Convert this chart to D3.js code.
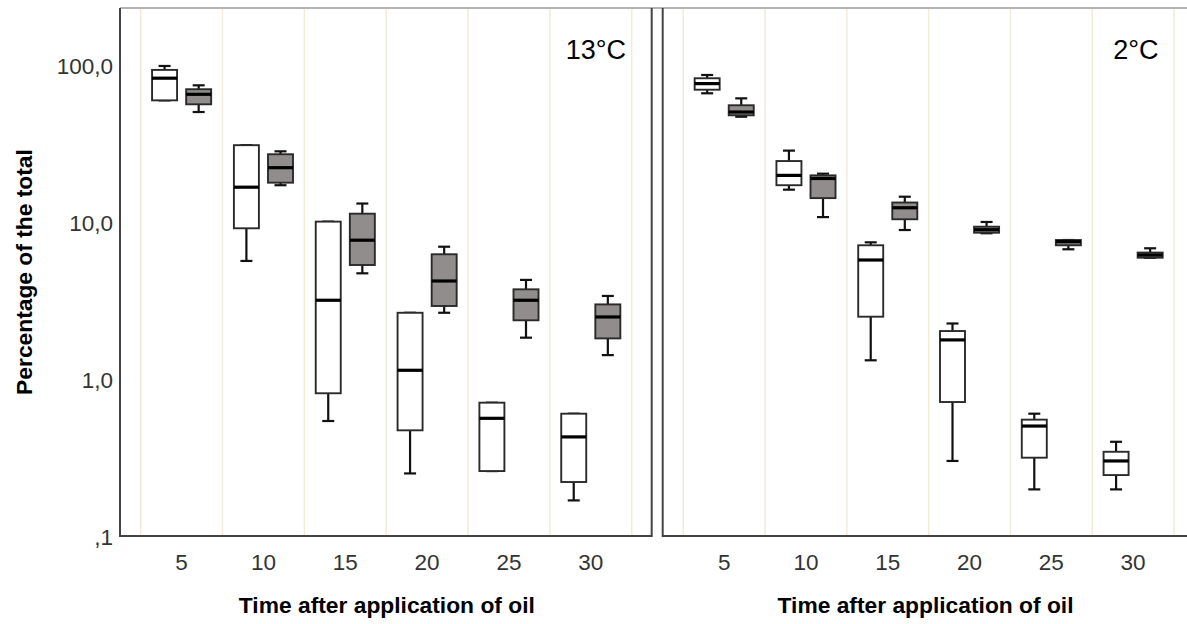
<!DOCTYPE html>
<html>
<head>
<meta charset="utf-8">
<script src="https://cdn.jsdelivr.net/npm/d3@7"></script>
<style>
  html, body { margin: 0; padding: 0; background: #fff; }
  svg { display: block; font-family: "Liberation Sans", Arial, sans-serif; }
</style>
</head>
<body>
<svg id="chart" width="1187" height="624"></svg>
<script>
// ---------------- data ----------------
const categories = ["5", "10", "15", "20", "25", "30"];
const seriesNames = ["open", "filled"];
const yTickValues = [0.1, 1, 10, 100];
const yTickLabels = [",1", "1,0", "10,0", "100,0"];
const panelLabels = ["13°C", "2°C"];
const xTitle = "Time after application of oil";
const yTitle = "Percentage of the total";

// each box: [min, q1, median, q3, max]
const open13 = [
  [60.4, 60.4, 83.6, 94.4, 100],
  [5.73, 9.25, 16.9, 31.3, 31.3],
  [0.548, 0.823, 3.22, 10.2, 10.2],
  [0.254, 0.478, 1.153, 2.68, 2.68],
  [0.263, 0.263, 0.570, 0.717, 0.717],
  [0.171, 0.224, 0.434, 0.610, 0.610]
];
const filled13 = [
  [50.9, 57.0, 66.0, 71.1, 75.3],
  [17.4, 18.06, 22.5, 27.4, 28.6],
  [4.78, 5.40, 7.77, 11.46, 13.3],
  [2.68, 2.96, 4.27, 6.32, 7.06],
  [1.86, 2.40, 3.22, 3.78, 4.34],
  [1.44, 1.84, 2.52, 3.03, 3.43]
];
const open2 = [
  [67.0, 70.6, 77.2, 83.5, 87.6],
  [16.3, 17.4, 20.1, 24.8, 28.9],
  [1.335, 2.53, 5.81, 7.21, 7.53],
  [0.305, 0.724, 1.80, 2.05, 2.29],
  [0.201, 0.320, 0.509, 0.559, 0.61],
  [0.201, 0.248, 0.305, 0.349, 0.404]
];
const filled2 = [
  [47.5, 48.5, 50.9, 56.2, 62.2],
  [10.9, 14.4, 19.2, 20.1, 20.6],
  [9.02, 10.56, 12.5, 13.5, 14.7],
  [8.6, 8.67, 9.06, 9.47, 10.15],
  [6.80, 7.21, 7.60, 7.79, 7.79],
  [6.0, 6.01, 6.25, 6.48, 6.90]
];

// ---------------- layout ----------------
const svg = d3.select("#chart");
const plotTop = 8, plotBottom = 536;
const fills = { open: "#ffffff", filled: "#928d8d" };

const y = d3.scaleLog().domain([0.1, 234]).range([537, plotTop]);

const panels = [
  { label: panelLabels[0], left: 120, right: 651.7, bandL: 140.7, bandR: 631.7,
    data: { open: open13, filled: filled13 }, labelX: 626, showY: true },
  { label: panelLabels[1], left: 662.7, right: 1194.4, bandL: 683.3, bandR: 1174,
    data: { open: open2, filled: filled2 }, labelX: 1158.5, showY: false }
];

// top frame line
svg.append("line")
  .attr("x1", 120).attr("x2", 1187)
  .attr("y1", plotTop).attr("y2", plotTop)
  .attr("stroke", "#9a9a9a").attr("stroke-width", 1.5);

panels.forEach(p => {
  const g = svg.append("g");
  const x = d3.scaleBand().domain(categories).range([p.bandL, p.bandR]).padding(0);
  const bw = x.bandwidth();
  const xs = d3.scalePoint().domain(seriesNames).range([0, bw]).padding(0.70);
  const boxW = 25, capW = 12;

  // gridlines at category boundaries
  const bounds = categories.map(c => x(c)).concat([x(categories[categories.length - 1]) + bw]);
  g.selectAll("line.grid").data(bounds).enter().append("line")
    .attr("x1", d => d).attr("x2", d => d)
    .attr("y1", plotTop + 1).attr("y2", plotBottom)
    .attr("stroke", "#f1ebda").attr("stroke-width", 1.5);

  // boxes
  seriesNames.forEach(s => {
    const arr = p.data[s];
    arr.forEach((b, i) => {
      const cx = x(categories[i]) + xs(s);
      const [mn, q1, md, q3, mx] = b;
      const bg = g.append("g");
      // whiskers
      bg.append("line").attr("x1", cx).attr("x2", cx).attr("y1", y(mx)).attr("y2", y(q3))
        .attr("stroke", "#111").attr("stroke-width", 2.2);
      bg.append("line").attr("x1", cx).attr("x2", cx).attr("y1", y(q1)).attr("y2", y(mn))
        .attr("stroke", "#111").attr("stroke-width", 2.2);
      bg.append("line").attr("x1", cx - capW / 2).attr("x2", cx + capW / 2).attr("y1", y(mx)).attr("y2", y(mx))
        .attr("stroke", "#111").attr("stroke-width", 2.2);
      bg.append("line").attr("x1", cx - capW / 2).attr("x2", cx + capW / 2).attr("y1", y(mn)).attr("y2", y(mn))
        .attr("stroke", "#111").attr("stroke-width", 2.2);
      // box
      bg.append("rect")
        .attr("x", cx - boxW / 2).attr("width", boxW)
        .attr("y", y(q3)).attr("height", Math.max(1, y(q1) - y(q3)))
        .attr("fill", fills[s]).attr("stroke", "#2a2a2a").attr("stroke-width", 1.9);
      // median
      bg.append("line").attr("x1", cx - boxW / 2).attr("x2", cx + boxW / 2).attr("y1", y(md)).attr("y2", y(md))
        .attr("stroke", "#000").attr("stroke-width", 3.2);
    });
  });

  // axis frame
  g.append("line").attr("x1", p.left).attr("x2", p.left).attr("y1", plotTop).attr("y2", plotBottom + 1)
    .attr("stroke", "#444").attr("stroke-width", 2);
  g.append("line").attr("x1", p.left).attr("x2", p.right).attr("y1", plotBottom).attr("y2", plotBottom)
    .attr("stroke", "#444").attr("stroke-width", 2);
  g.append("line").attr("x1", p.right).attr("x2", p.right).attr("y1", plotTop).attr("y2", plotBottom + 1)
    .attr("stroke", "#444").attr("stroke-width", 2);

  // x axis ticks
  const xAxis = d3.axisBottom(x).tickSize(0).tickPadding(18);
  const xg = g.append("g").attr("transform", `translate(0,${plotBottom})`).call(xAxis);
  xg.select(".domain").remove();
  xg.selectAll("text").attr("font-size", "22.5px").attr("fill", "#333")
    .attr("font-family", "Liberation Sans, Arial, sans-serif");

  // x title
  g.append("text").attr("x", (p.left + p.right) / 2 - (p.showY ? -1 : 3)).attr("y", 613.3)
    .attr("text-anchor", "middle").attr("font-weight", "bold").attr("font-size", "22.8px")
    .attr("fill", "#000").text(xTitle);

  // panel label
  g.append("text").attr("x", p.labelX).attr("y", 59.3).attr("text-anchor", "end")
    .attr("font-size", "27px").attr("fill", "#000").text(p.label);

  if (p.showY) {
    const yAxis = d3.axisLeft(y).tickValues(yTickValues).tickSize(0).tickPadding(7)
      .tickFormat((d, i) => yTickLabels[i]);
    const yg = g.append("g").attr("transform", `translate(${p.left},0)`).call(yAxis);
    yg.select(".domain").remove();
    yg.selectAll("text").attr("font-size", "22.5px").attr("fill", "#333")
      .attr("font-family", "Liberation Sans, Arial, sans-serif");
    g.append("text")
      .attr("transform", `translate(31.5,${272}) rotate(-90)`)
      .attr("text-anchor", "middle").attr("font-weight", "bold").attr("font-size", "22.8px")
      .attr("fill", "#000").text(yTitle);
  }
});
</script>
</body>
</html>
